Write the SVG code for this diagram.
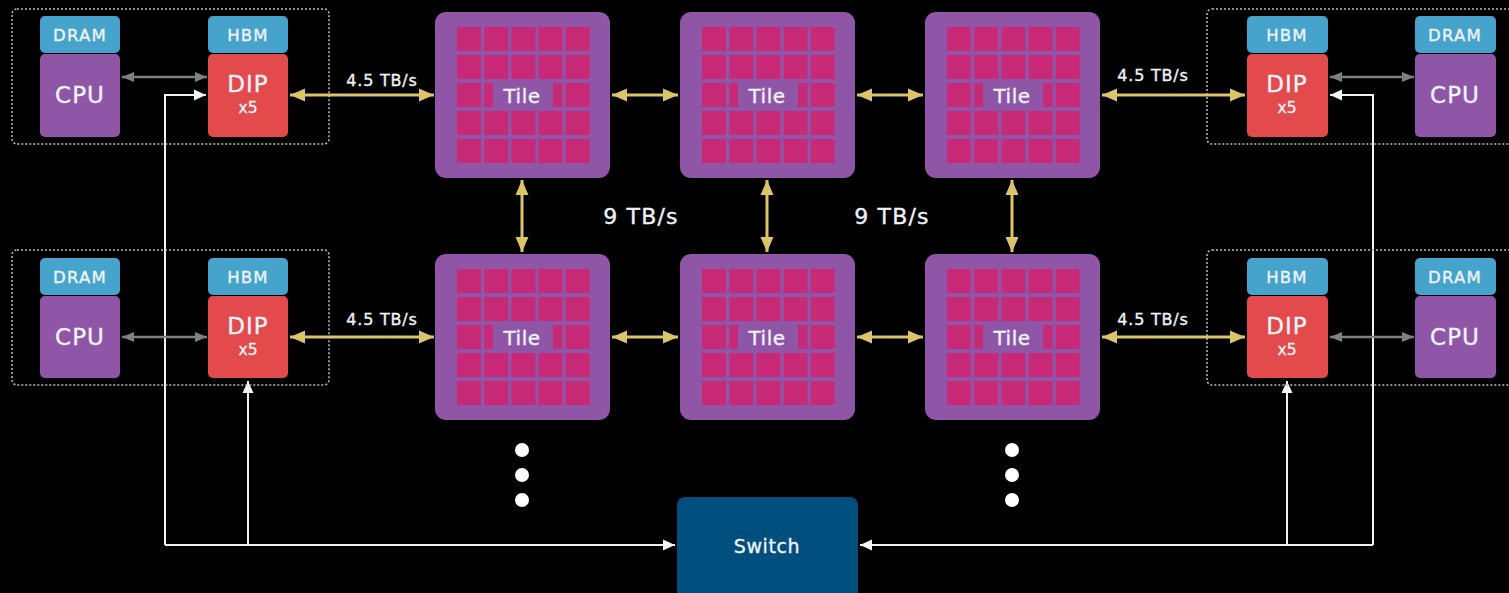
<svg xmlns="http://www.w3.org/2000/svg" xmlns:xlink="http://www.w3.org/1999/xlink" width="1509" height="593" viewBox="0 0 1509 593">
<style>
text{font-family:"DejaVu Sans","Liberation Sans",sans-serif;fill:#eef3f8;text-anchor:middle;stroke:#eef3f8;stroke-width:0.35px}
.mem{fill:#46a4cc}
.cpu{fill:#8f56a7}
.dip{fill:#e24a4b}
.grp{fill:none;stroke:#bdbdbd;stroke-width:1.5;stroke-dasharray:2 2}
.t16{font-size:16.5px;letter-spacing:1.2px}
.t22{font-size:23px;letter-spacing:1px}
.t15{font-size:15.5px}
.tile{font-size:20px;letter-spacing:0.5px}
.bw{font-size:16px;letter-spacing:0.8px}
.big{font-size:22px;letter-spacing:1.2px}
.yl{fill:none;stroke:#dcc46b;stroke-width:3;marker-start:url(#ya);marker-end:url(#ya)}
.gr{fill:none;stroke:#808080;stroke-width:2.5;marker-start:url(#ga);marker-end:url(#ga)}
.wh{fill:none;stroke:#f0f0f0;stroke-width:2}
.whe{marker-end:url(#wa)}
.cell{fill:#c92a78}
.dot{fill:#ffffff}
</style>
<defs>
<marker id="ya" markerUnits="userSpaceOnUse" markerWidth="16" markerHeight="14" refX="15" refY="7" orient="auto-start-reverse"><path d="M0,0.5 L15,7 L0,13.5 z" fill="#dcc46b"/></marker>
<marker id="ga" markerUnits="userSpaceOnUse" markerWidth="13" markerHeight="11" refX="12" refY="5.5" orient="auto-start-reverse"><path d="M0,0.5 L12,5.5 L0,10.5 z" fill="#808080"/></marker>
<marker id="wa" markerUnits="userSpaceOnUse" markerWidth="13" markerHeight="12" refX="12" refY="6" orient="auto-start-reverse"><path d="M0,0.5 L12,6 L0,11.5 z" fill="#f4f4f4"/></marker>
<g id="tileShape">
<rect x="0" y="0" width="175" height="166" rx="11" fill="#8f56a7"/>
<g class="cell">
<rect x="22" y="15" width="24" height="24"/><rect x="49.2" y="15" width="24" height="24"/><rect x="76.4" y="15" width="24" height="24"/><rect x="103.6" y="15" width="24" height="24"/><rect x="130.8" y="15" width="24" height="24"/>
<rect x="22" y="43" width="24" height="24"/><rect x="49.2" y="43" width="24" height="24"/><rect x="76.4" y="43" width="24" height="24"/><rect x="103.6" y="43" width="24" height="24"/><rect x="130.8" y="43" width="24" height="24"/>
<rect x="22" y="71" width="24" height="24"/><rect x="49.2" y="71" width="24" height="24"/><rect x="76.4" y="71" width="24" height="24"/><rect x="103.6" y="71" width="24" height="24"/><rect x="130.8" y="71" width="24" height="24"/>
<rect x="22" y="99" width="24" height="24"/><rect x="49.2" y="99" width="24" height="24"/><rect x="76.4" y="99" width="24" height="24"/><rect x="103.6" y="99" width="24" height="24"/><rect x="130.8" y="99" width="24" height="24"/>
<rect x="22" y="127" width="24" height="24"/><rect x="49.2" y="127" width="24" height="24"/><rect x="76.4" y="127" width="24" height="24"/><rect x="103.6" y="127" width="24" height="24"/><rect x="130.8" y="127" width="24" height="24"/>
</g>
<rect x="58" y="71" width="60" height="24" fill="#8f56a7"/>
</g>
</defs>
<rect x="0" y="0" width="1509" height="593" fill="#000"/>

<g id="connectors">
<path class="wh whe" d="M165,545 V95 H206"/>
<path class="wh whe" d="M165,545 H675"/>
<path class="wh whe" d="M248,545 V381"/>
<path class="wh whe" d="M1373,545 V95 H1330"/>
<path class="wh whe" d="M1373,545 H860"/>
<path class="wh whe" d="M1287,545 V381"/>
<path class="gr" d="M122,77 H207"/>
<path class="gr" d="M122,337 H207"/>
<path class="gr" d="M1330,77 H1414"/>
<path class="gr" d="M1330,337 H1414"/>
<path class="yl" d="M290,95 H434"/>
<path class="yl" d="M612,95 H678"/>
<path class="yl" d="M857,95 H923"/>
<path class="yl" d="M1102,95 H1245"/>
<path class="yl" d="M290,337 H434"/>
<path class="yl" d="M612,337 H678"/>
<path class="yl" d="M857,337 H923"/>
<path class="yl" d="M1102,337 H1245"/>
<path class="yl" d="M522,180 V252"/>
<path class="yl" d="M767,180 V252"/>
<path class="yl" d="M1012,180 V252"/>
<text class="bw" x="382" y="86">4.5 TB/s</text>
<text class="bw" x="1153" y="81">4.5 TB/s</text>
<text class="bw" x="382" y="325">4.5 TB/s</text>
<text class="bw" x="1153" y="325">4.5 TB/s</text>
<text class="big" x="641" y="224">9 TB/s</text>
<text class="big" x="892" y="224">9 TB/s</text>
</g>

<g id="host-tl">
<rect class="grp" x="12" y="9" width="317" height="135" rx="5"/>
<rect class="mem" x="40" y="16" width="80" height="37" rx="5"/>
<text class="t16" x="80" y="41">DRAM</text>
<rect class="cpu" x="40" y="54" width="80" height="83" rx="5"/>
<text class="t22" x="80" y="103">CPU</text>
<rect class="mem" x="208" y="16" width="80" height="37" rx="5"/>
<text class="t16" x="248" y="41">HBM</text>
<rect class="dip" x="208" y="54" width="80" height="83" rx="5"/>
<text class="t22" x="248" y="92">DIP</text>
<text class="t15" x="248" y="113">x5</text>
</g>

<g id="host-bl">
<rect class="grp" x="12" y="250" width="317" height="135" rx="5"/>
<rect class="mem" x="40" y="258" width="80" height="37" rx="5"/>
<text class="t16" x="80" y="283">DRAM</text>
<rect class="cpu" x="40" y="296" width="80" height="82" rx="5"/>
<text class="t22" x="80" y="345">CPU</text>
<rect class="mem" x="208" y="258" width="80" height="37" rx="5"/>
<text class="t16" x="248" y="283">HBM</text>
<rect class="dip" x="208" y="296" width="80" height="82" rx="5"/>
<text class="t22" x="248" y="334">DIP</text>
<text class="t15" x="248" y="355">x5</text>
</g>

<g id="host-tr">
<rect class="grp" x="1207" y="9" width="320" height="135" rx="5"/>
<rect class="mem" x="1247" y="16" width="81" height="37" rx="5"/>
<text class="t16" x="1287" y="41">HBM</text>
<rect class="dip" x="1247" y="54" width="81" height="83" rx="5"/>
<text class="t22" x="1287" y="92">DIP</text>
<text class="t15" x="1287" y="113">x5</text>
<rect class="mem" x="1415" y="16" width="81" height="37" rx="5"/>
<text class="t16" x="1455" y="41">DRAM</text>
<rect class="cpu" x="1415" y="54" width="81" height="83" rx="5"/>
<text class="t22" x="1455" y="103">CPU</text>
</g>

<g id="host-br">
<rect class="grp" x="1207" y="250" width="320" height="135" rx="5"/>
<rect class="mem" x="1247" y="258" width="81" height="37" rx="5"/>
<text class="t16" x="1287" y="283">HBM</text>
<rect class="dip" x="1247" y="296" width="81" height="82" rx="5"/>
<text class="t22" x="1287" y="334">DIP</text>
<text class="t15" x="1287" y="355">x5</text>
<rect class="mem" x="1415" y="258" width="81" height="37" rx="5"/>
<text class="t16" x="1455" y="283">DRAM</text>
<rect class="cpu" x="1415" y="296" width="81" height="82" rx="5"/>
<text class="t22" x="1455" y="345">CPU</text>
</g>

<g id="tile-1"><use xlink:href="#tileShape" x="435" y="12"/><text class="tile" x="522" y="103">Tile</text></g>
<g id="tile-2"><use xlink:href="#tileShape" x="680" y="12"/><text class="tile" x="767" y="103">Tile</text></g>
<g id="tile-3"><use xlink:href="#tileShape" x="925" y="12"/><text class="tile" x="1012" y="103">Tile</text></g>
<g id="tile-4"><use xlink:href="#tileShape" x="435" y="254"/><text class="tile" x="522" y="345">Tile</text></g>
<g id="tile-5"><use xlink:href="#tileShape" x="680" y="254"/><text class="tile" x="767" y="345">Tile</text></g>
<g id="tile-6"><use xlink:href="#tileShape" x="925" y="254"/><text class="tile" x="1012" y="345">Tile</text></g>

<g id="ellipsis-left"><circle class="dot" cx="522" cy="450" r="7"/><circle class="dot" cx="522" cy="475" r="7"/><circle class="dot" cx="522" cy="500" r="7"/></g>
<g id="ellipsis-right"><circle class="dot" cx="1012" cy="450" r="7"/><circle class="dot" cx="1012" cy="475" r="7"/><circle class="dot" cx="1012" cy="500" r="7"/></g>

<g id="switch">
<rect x="677" y="497" width="181" height="110" rx="8" fill="#004e7d"/>
<text x="767" y="553" style="font-size:19px;letter-spacing:0.6px">Switch</text>
</g>
</svg>
